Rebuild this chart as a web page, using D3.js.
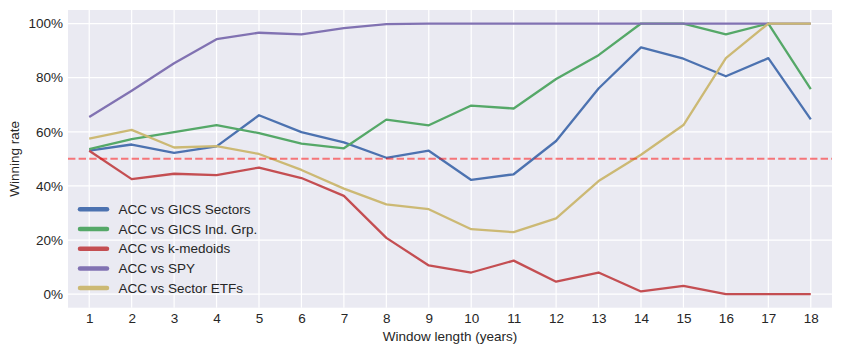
<!DOCTYPE html>
<html>
<head>
<meta charset="utf-8">
<script src="https://cdn.jsdelivr.net/npm/d3@7"></script>
<style>
  body { margin: 0; background: #fff; }
  text { font-family: "Liberation Sans", Arial, sans-serif; fill: #262626; }
</style>
</head>
<body>
<svg id="chart"></svg>
<script>
// window lengths (years)
var years = [1,2,3,4,5,6,7,8,9,10,11,12,13,14,15,16,17,18];

// winning rate per comparison
var gicsSectors = [0.530,0.553,0.522,0.546,0.661,0.599,0.561,0.504,0.530,0.422,0.443,0.566,0.760,0.912,0.870,0.805,0.872,0.646];
var gicsIndGrp  = [0.536,0.573,0.599,0.625,0.595,0.556,0.539,0.645,0.624,0.697,0.686,0.795,0.883,1.000,1.000,0.960,1.000,0.758];
var kMedoids    = [0.530,0.425,0.445,0.440,0.468,0.429,0.363,0.208,0.106,0.080,0.124,0.046,0.080,0.010,0.031,0.000,0.000,0.000];
var spy         = [0.655,0.752,0.853,0.942,0.966,0.960,0.983,0.998,1.000,1.000,1.000,1.000,1.000,1.000,1.000,1.000,1.000,1.000];
var sectorETFs  = [0.575,0.607,0.542,0.547,0.518,0.459,0.390,0.332,0.314,0.240,0.229,0.280,0.418,0.515,0.625,0.872,1.000,1.000];

var seriesNames = ["ACC vs GICS Sectors","ACC vs GICS Ind. Grp.","ACC vs k-medoids","ACC vs SPY","ACC vs Sector ETFs"];
var seriesData = [gicsSectors, gicsIndGrp, kMedoids, spy, sectorETFs];
var colors = ["#4C72B0","#55A868","#C44E52","#8172B2","#CCB974"];
var yTicks = [0, 0.2, 0.4, 0.6, 0.8, 1.0];
var threshold = 0.5;

// set the dimensions and margins of the graph
var margin = {top: 10, right: 10, bottom: 46.3, left: 68},
    width = 842 - margin.left - margin.right,
    height = 354 - margin.top - margin.bottom;

var svg = d3.select("#chart")
    .attr("width", 842)
    .attr("height", 354)
  .append("g")
    .attr("transform", "translate(" + margin.left + "," + margin.top + ")");

var x = d3.scaleLinear().domain([0.5, 18.5]).range([0, width]);
var y = d3.scaleLinear().domain([-0.05, 1.05]).range([height, 0]);

// background
svg.append("rect")
    .attr("width", width)
    .attr("height", height)
    .attr("fill", "#EAEAF2");

// grid
svg.append("g")
  .selectAll("line.v")
  .data(years)
  .enter().append("line")
    .attr("x1", function(d) { return x(d); })
    .attr("x2", function(d) { return x(d); })
    .attr("y1", 0)
    .attr("y2", height)
    .attr("stroke", "#fff")
    .attr("stroke-width", 1.2);

svg.append("g")
  .selectAll("line.h")
  .data(yTicks)
  .enter().append("line")
    .attr("x1", 0)
    .attr("x2", width)
    .attr("y1", function(d) { return y(d); })
    .attr("y2", function(d) { return y(d); })
    .attr("stroke", "#fff")
    .attr("stroke-width", 1.2);

// axes (labels only)
var xAxis = svg.append("g")
    .attr("transform", "translate(0," + height + ")")
    .call(d3.axisBottom(x).tickValues(years).tickFormat(d3.format("d")).tickSize(0).tickPadding(5.5));
var yAxis = svg.append("g")
    .call(d3.axisLeft(y).tickValues(yTicks).tickFormat(d3.format(".0%")).tickSize(0).tickPadding(5));
[xAxis, yAxis].forEach(function(a) {
  a.select(".domain").remove();
  a.selectAll("text")
    .attr("font-size", "13.5px")
    .attr("font-family", "Liberation Sans, Arial, sans-serif")
    .attr("fill", "#262626");
});

// lines
var line = d3.line()
    .x(function(d, i) { return x(years[i]); })
    .y(function(d) { return y(d); });

svg.selectAll("path.series")
  .data(seriesData)
  .enter().append("path")
    .attr("class", "series")
    .attr("d", line)
    .attr("fill", "none")
    .attr("stroke", function(d, i) { return colors[i]; })
    .attr("stroke-width", 2.3)
    .attr("stroke-linejoin", "round");

// 50% reference
svg.append("line")
    .attr("x1", 0)
    .attr("x2", width)
    .attr("y1", y(threshold))
    .attr("y2", y(threshold))
    .attr("stroke", "red")
    .attr("stroke-opacity", 0.5)
    .attr("stroke-width", 2)
    .attr("stroke-dasharray", "7.4,3.2");

// legend
var legend = svg.append("g")
    .attr("transform", "translate(12,199.3)");
var item = legend.selectAll("g")
  .data(seriesNames)
  .enter().append("g")
    .attr("transform", function(d, i) { return "translate(0," + (i * 19.7) + ")"; });
item.append("line")
    .attr("x1", 0).attr("x2", 27)
    .attr("stroke", function(d, i) { return colors[i]; })
    .attr("stroke-width", 4.5)
    .attr("stroke-linecap", "round");
item.append("text")
    .attr("x", 38.5)
    .attr("dy", "0.35em")
    .attr("font-size", "13.5px")
    .text(function(d) { return d; });

// axis titles
svg.append("text")
    .attr("x", width / 2)
    .attr("y", height + 33)
    .attr("text-anchor", "middle")
    .attr("font-size", "13.5px")
    .text("Window length (years)");
svg.append("text")
    .attr("transform", "translate(-49," + (height / 2) + ") rotate(-90)")
    .attr("text-anchor", "middle")
    .attr("font-size", "13.5px")
    .text("Winning rate");
</script>
</body>
</html>
